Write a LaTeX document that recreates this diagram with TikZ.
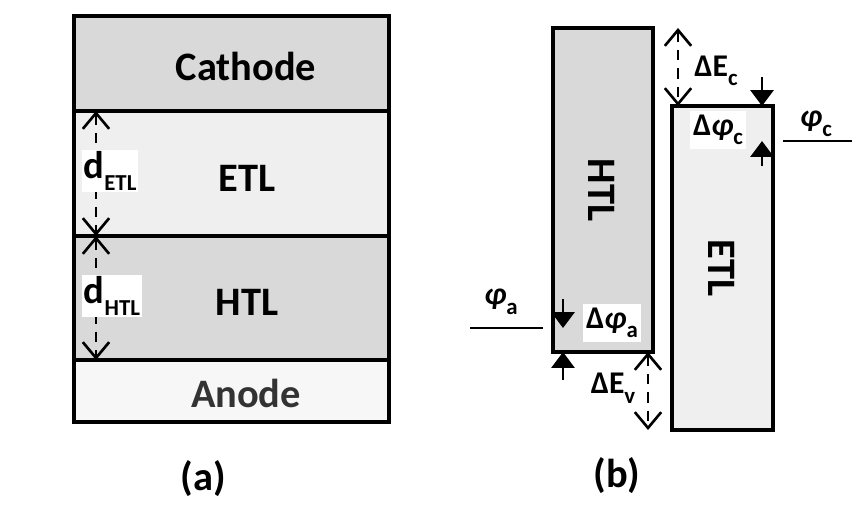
\documentclass[tikz,border=0pt]{standalone}
\usepackage{fontspec}
\setmainfont{Carlito}
\usetikzlibrary{arrows.meta}
\definecolor{darklayer}{HTML}{D9D9D9}
\definecolor{lightlayer}{HTML}{EFEFEF}
\definecolor{anodefill}{HTML}{F7F7F7}
\newcommand\lowtag[1]{\raisebox{-0.3em}{\fontsize{13}{14}\selectfont #1}}
\newcommand\phisym{\textit{φ}}
\begin{document}
\begin{tikzpicture}[
  x=0.02cm, y=-0.02cm,
  font=\fontsize{23}{27}\selectfont\bfseries,
  border/.style={line width=1.9pt},
  layertext/.style={font=\fontsize{23}{27}\selectfont\bfseries},
  bandtext/.style={font=\fontsize{23}{27}\selectfont\bfseries, rotate=-90},
  symtext/.style={font=\fontsize{18}{21}\selectfont\bfseries, inner sep=1pt},
  whitetag/.style={symtext, fill=white, inner sep=2pt},
  dimarrow/.style={line width=1.5pt, dash pattern=on 6pt off 4.5pt,
    {Straight Barb[length=9pt,width=15pt,line width=1.5pt]}-{Straight Barb[length=9pt,width=15pt,line width=1.5pt]}},
  gaparrow/.style={line width=1.6pt, -{Triangle[length=9pt,width=13pt]}},
]
\def\xl{74}
\def\xr{389}
\def\ya{16}
\def\yb{111}
\def\yc{236}
\def\yd{360}
\def\ye{422}

\path[use as bounding box] (0,0) rectangle (857,504);

% (a) layer stack
\fill[darklayer] (\xl,\ya) rectangle (\xr,\yb);
\fill[lightlayer] (\xl,\yb) rectangle (\xr,\yc);
\fill[darklayer] (\xl,\yc) rectangle (\xr,\yd);
\fill[anodefill] (\xl,\yd) rectangle (\xr,\ye);
\draw[border] (\xl,\ya) rectangle (\xr,\ye);
\draw[border] (\xl,\yb) -- (\xr,\yb);
\draw[border] (\xl,\yc) -- (\xr,\yc);
\draw[border] (\xl,\yd) -- (\xr,\yd);

\node[layertext] (cathode) at (246,66) {Cathode};
\node[layertext] (etl) at (247,178) {ETL};
\node[layertext] (htl) at (247,302) {HTL};
\node[layertext, text=black!80] (anode) at (246,393) {Anode};

\coordinate (etltop) at (96,\yb);
\coordinate (etlbot) at (96,\yc);
\coordinate (htlbot) at (96,\yd);
\draw[dimarrow] (etltop) -- (etlbot);
\draw[dimarrow] (etlbot) -- (htlbot);
\node[whitetag, inner sep=1pt, font=\fontsize{22}{26}\selectfont\bfseries] (detl) at (110,171) {d\lowtag{ETL}};
\node[whitetag, inner sep=1pt, font=\fontsize{22}{26}\selectfont\bfseries] (dhtl) at (112,296) {d\lowtag{HTL}};

\node[layertext] (capa) at (203,479) {(a)};

% (b) energy levels
\fill[darklayer] (553,28) rectangle (653,352);
\draw[border] (553,28) rectangle (653,352);
\fill[lightlayer] (672,106) rectangle (773,430);
\draw[border] (672,106) rectangle (773,430);
\node[bandtext] (htlband) at (602,190) {HTL};
\node[bandtext] (etlband) at (722,268) {ETL};

% offsets between the bands
\coordinate (ectop) at (678,28);
\coordinate (ecbot) at (678,106);
\draw[dimarrow] (ectop) -- (ecbot);
\node[symtext] (dec) at (716,71) {ΔE\lowtag{c}};

\coordinate (evtop) at (648,352);
\coordinate (evbot) at (648,430);
\draw[dimarrow] (evtop) -- (evbot);
\node[symtext] (dev) at (613,388) {ΔE\lowtag{v}};

% cathode work function
\coordinate (phicl) at (783,141);
\coordinate (phicr) at (852,141);
\draw[line width=1.6pt] (phicl) -- (phicr);
\node[symtext] (phic) at (816,124) {\phisym\lowtag{c}};
\node[whitetag] (dphic) at (718,130) {Δ\phisym\lowtag{c}};
\coordinate (dphictop) at (762,77);
\coordinate (dphicbot) at (762,166);
\draw[gaparrow] (dphictop) -- (762,106);
\draw[gaparrow] (dphicbot) -- (762,141);

% anode work function
\coordinate (phial) at (470,328);
\coordinate (phiar) at (543,328);
\draw[line width=1.6pt] (phial) -- (phiar);
\node[symtext] (phia) at (501,302) {\phisym\lowtag{a}};
\node[whitetag] (dphia) at (612,323) {Δ\phisym\lowtag{a}};
\coordinate (dphiatop) at (563,299);
\coordinate (dphiabot) at (563,380);
\draw[gaparrow] (dphiatop) -- (563,328);
\draw[gaparrow] (dphiabot) -- (563,352);

\node[layertext] (capb) at (617,476) {(b)};
\end{tikzpicture}
\end{document}
